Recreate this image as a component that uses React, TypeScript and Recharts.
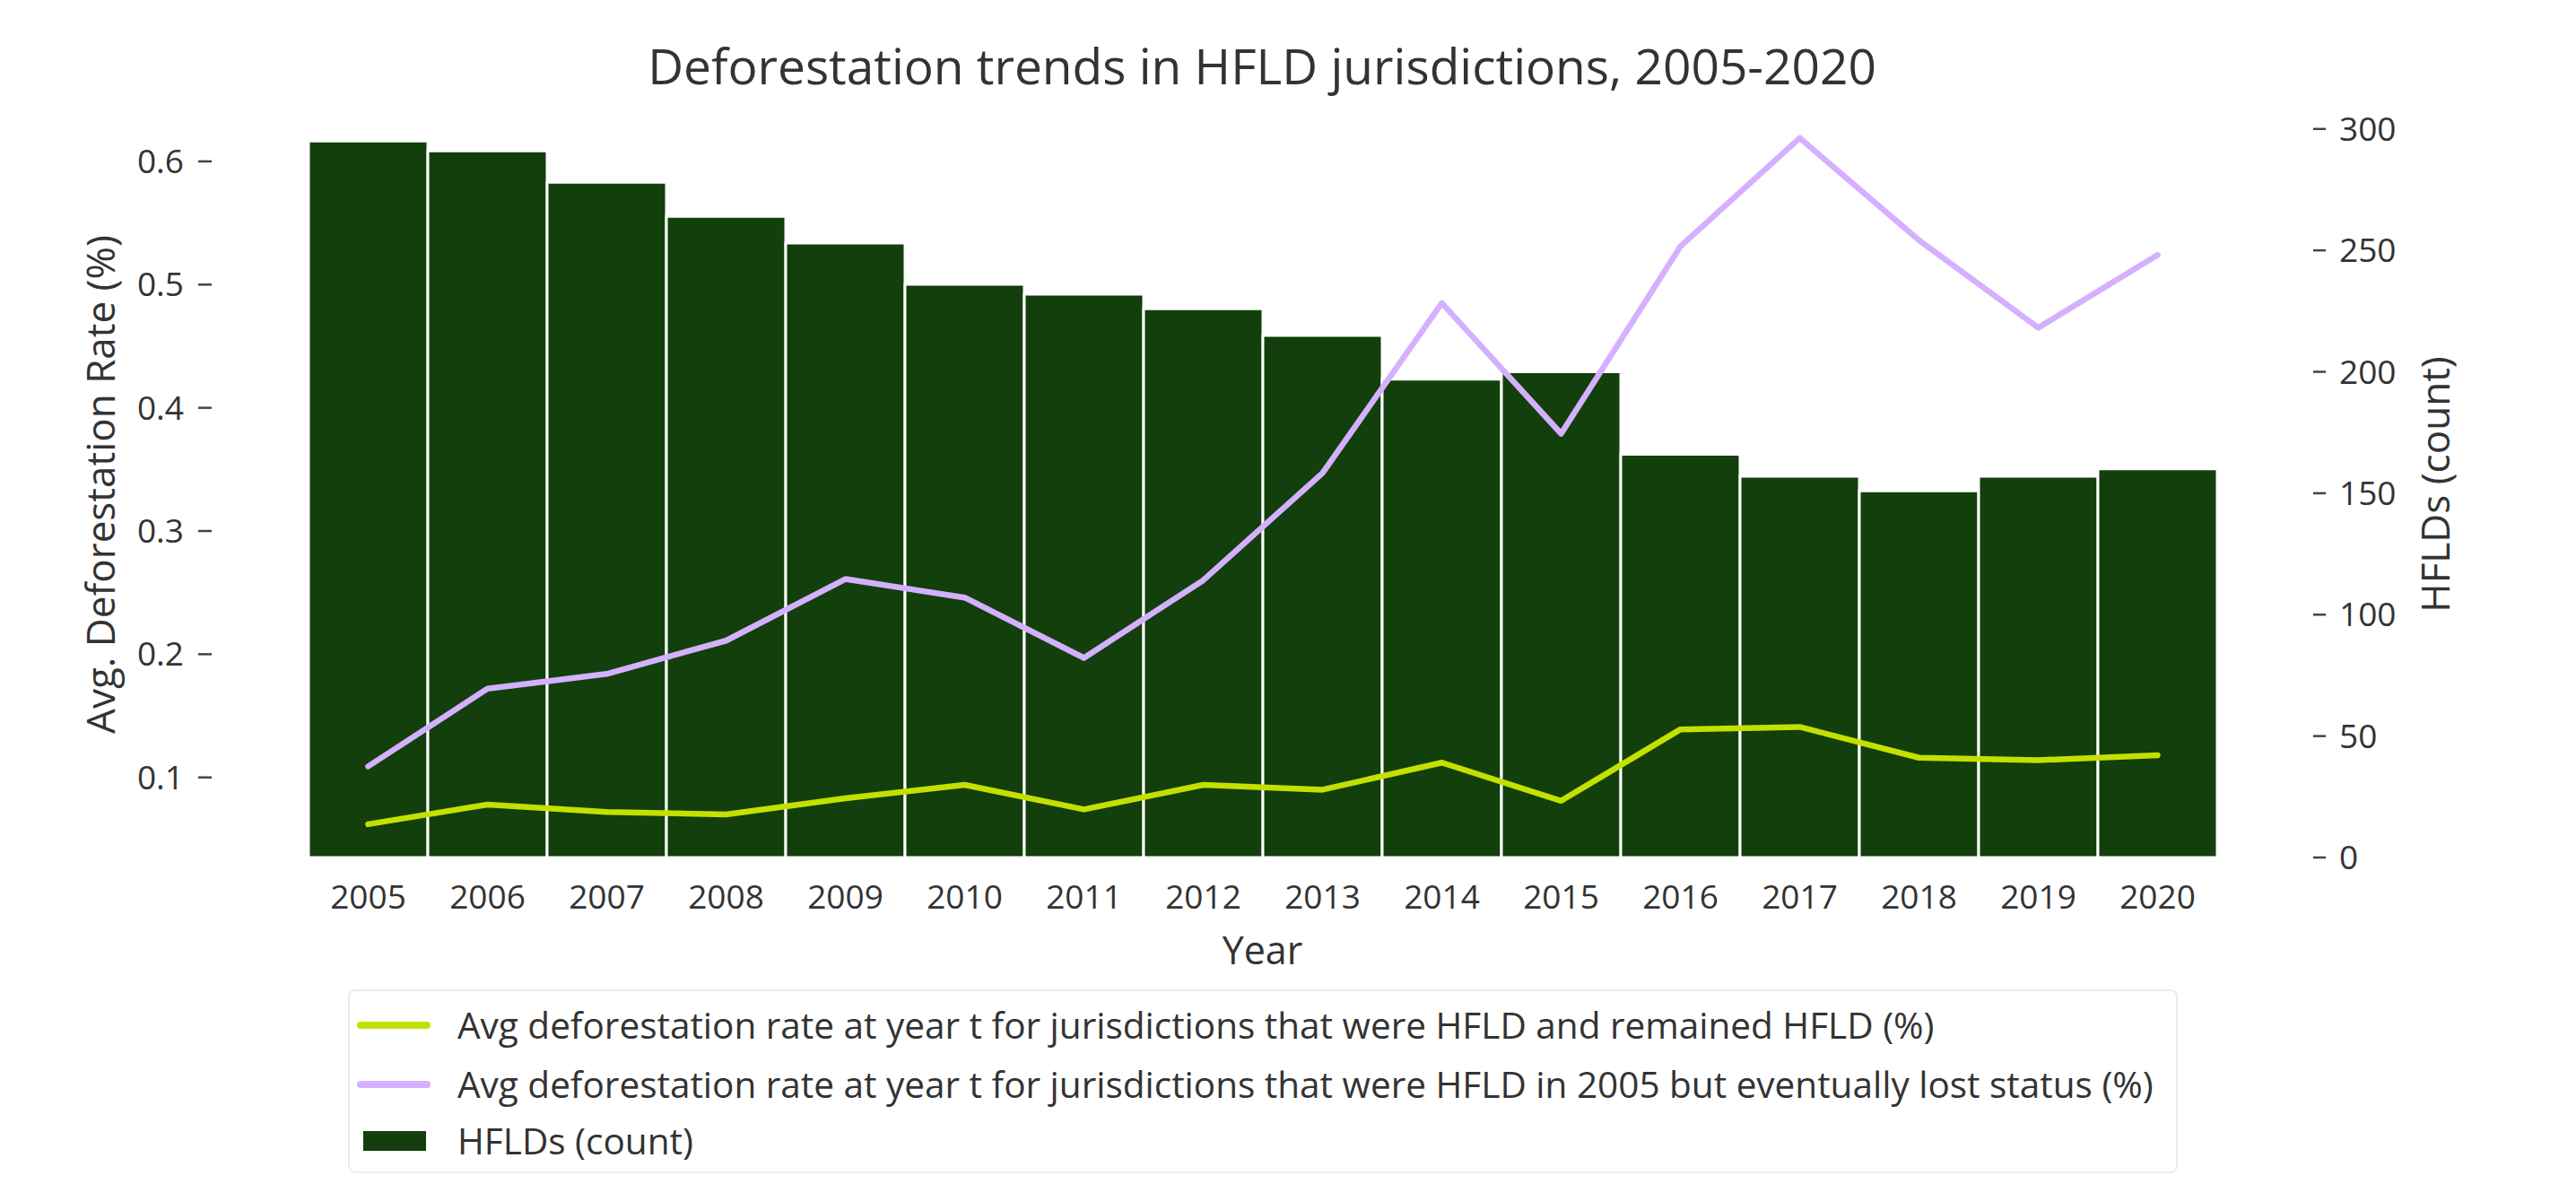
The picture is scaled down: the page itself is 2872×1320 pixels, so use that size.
import React from 'react';
import { ComposedChart, Bar, Line, XAxis, YAxis, Legend } from 'recharts';

const years = ['2005','2006','2007','2008','2009','2010','2011','2012','2013','2014','2015','2016','2017','2018','2019','2020'];
const hfldCount = [295, 291, 278, 264, 253, 236, 232, 226, 215, 197, 200, 166, 157, 151, 157, 160];
const remainedRate = [0.062, 0.078, 0.072, 0.070, 0.083, 0.094, 0.074, 0.094, 0.090, 0.112, 0.081, 0.139, 0.141, 0.116, 0.114, 0.118];
const lostRate = [0.109, 0.172, 0.184, 0.211, 0.261, 0.246, 0.197, 0.260, 0.347, 0.485, 0.379, 0.531, 0.619, 0.536, 0.465, 0.524];
const leftTicks = [0.1, 0.2, 0.3, 0.4, 0.5, 0.6];
const rightTicks = [0, 50, 100, 150, 200, 250, 300];

const seriesLabels = [
  'Avg deforestation rate at year t for jurisdictions that were HFLD and remained HFLD (%)',
  'Avg deforestation rate at year t for jurisdictions that were HFLD in 2005 but eventually lost status (%)',
  'HFLDs (count)',
];
const titleText = 'Deforestation trends in HFLD jurisdictions, 2005-2020';

const data = years.map((y, i) => ({
  year: y,
  count: hfldCount[i],
  remained: remainedRate[i],
  lost: lostRate[i],
}));

const FONT = '"Open Sans", "Noto Sans", sans-serif';
const TEXT = '#333333';
const BAR = '#123f0b';
const GREEN = '#c4e000';
const PURPLE = '#d4b0ff';

const W = 2872;
const H = 1320;

const renderLegend = () => {
  const rows = [
    { kind: 'line', color: GREEN, label: seriesLabels[0], cy: 38 },
    { kind: 'line', color: PURPLE, label: seriesLabels[1], cy: 104 },
    { kind: 'patch', color: BAR, label: seriesLabels[2], cy: 167 },
  ];
  return (
    <div
      style={{
        position: 'relative',
        boxSizing: 'border-box',
        width: 2040,
        height: 205,
        border: '2px solid #ececec',
        borderRadius: 8,
        background: '#fff',
        fontFamily: FONT,
      }}
    >
      {rows.map((r, i) => (
        <div key={i} style={{ position: 'absolute', left: 0, top: r.cy - 27, height: 54, width: '100%' }}>
          {r.kind === 'line' ? (
            <div style={{ position: 'absolute', left: 8, top: 23, width: 82, height: 8, borderRadius: 4, background: r.color }} />
          ) : (
            <div style={{ position: 'absolute', left: 15, top: 16, width: 70, height: 22, background: r.color }} />
          )}
          <div style={{ position: 'absolute', left: 120, top: 0, height: 54, lineHeight: '54px', fontSize: 40.5, color: TEXT, whiteSpace: 'nowrap' }}>
            {r.label}
          </div>
        </div>
      ))}
    </div>
  );
};

export default function App() {
  return (
    <div style={{ position: 'absolute', left: 0, top: 0, width: W, height: H, background: '#fff' }}>
      <svg width={W} height={120} style={{ position: 'absolute', left: 0, top: 0 }}>
        <text x={1407} y={94} textAnchor="middle" fontFamily={FONT} fontSize={55} fill={TEXT}>
          {titleText}
        </text>
      </svg>
      <div style={{ position: 'absolute', left: 0, top: 0 }}>
        <ComposedChart
          width={W}
          height={H}
          data={data}
          margin={{ top: 114, right: 0, bottom: 234, left: 0 }}
          barCategoryGap={0}
          barGap={0}
        >
          <XAxis
            dataKey="year"
            xAxisId="x"
            height={130}
            padding={{ left: 108, right: 107 }}
            axisLine={false}
            tickLine={false}
            tickSize={0}
            tickMargin={31}
            interval={0}
            tick={{ fill: TEXT, fontSize: 37, fontFamily: FONT }}
            label={{
              content: (p: any) => {
                const vb = p.viewBox || { x: 0, y: 0, width: 0 };
                return (
                  <text x={vb.x + vb.width / 2} y={vb.y + 119} textAnchor="middle" fontFamily={FONT} fontSize={43} fill={TEXT}>
                    Year
                  </text>
                );
              },
            }}
          />
          <YAxis
            yAxisId="left"
            orientation="left"
            width={236}
            domain={[0.035, 0.648]}
            allowDataOverflow
            ticks={leftTicks}
            tickFormatter={(v: number) => v.toFixed(1)}
            axisLine={false}
            tickLine={{ stroke: '#444', strokeWidth: 2.5 }}
            tickSize={15}
            tickMargin={16}
            tick={{ fill: TEXT, fontSize: 37, fontFamily: FONT }}
            label={{
              content: (p: any) => {
                const vb = p.viewBox || { x: 0, y: 0, width: 0, height: 0 };
                const cx = 111;
                const cy = vb.y + vb.height / 2 + 5;
                return (
                  <text x={cx} y={cy} transform={`rotate(-90 ${cx} ${cy})`} textAnchor="middle" dominantBaseline="central" fontFamily={FONT} fontSize={44} fill={TEXT}>
                    Avg. Deforestation Rate (%)
                  </text>
                );
              },
            }}
          />
          <YAxis
            yAxisId="right"
            orientation="right"
            width={293}
            domain={[0, 311]}
            allowDataOverflow
            ticks={rightTicks}
            axisLine={false}
            tickLine={{ stroke: '#444', strokeWidth: 2.5 }}
            tickSize={14}
            tickMargin={15}
            tick={{ fill: TEXT, fontSize: 37, fontFamily: FONT }}
            label={{
              content: (p: any) => {
                const vb = p.viewBox || { x: 0, y: 0, width: 0, height: 0 };
                const cx = 2714;
                const cy = vb.y + vb.height / 2 + 5;
                return (
                  <text x={cx} y={cy} transform={`rotate(-90 ${cx} ${cy})`} textAnchor="middle" dominantBaseline="central" fontFamily={FONT} fontSize={44} fill={TEXT}>
                    HFLDs (count)
                  </text>
                );
              },
            }}
          />
          <Bar
            dataKey="count"
            xAxisId="x"
            yAxisId="right"
            fill={BAR}
            stroke="#ffffff"
            strokeWidth={3}
            isAnimationActive={false}
            name={seriesLabels[2]}
          />
          <Line
            type="linear"
            dataKey="remained"
            xAxisId="x"
            yAxisId="left"
            stroke={GREEN}
            strokeWidth={6.5}
            dot={false}
            activeDot={false}
            strokeLinejoin="round"
            strokeLinecap="round"
            isAnimationActive={false}
            name={seriesLabels[0]}
          />
          <Line
            type="linear"
            dataKey="lost"
            xAxisId="x"
            yAxisId="left"
            stroke={PURPLE}
            strokeWidth={6.5}
            dot={false}
            activeDot={false}
            strokeLinejoin="round"
            strokeLinecap="round"
            isAnimationActive={false}
            name={seriesLabels[1]}
          />
          <Legend
            layout="vertical"
            align="center"
            verticalAlign="middle"
            content={renderLegend}
            wrapperStyle={{ position: 'absolute', left: 388, top: 1103, width: 2040, height: 205, margin: 0, padding: 0 }}
          />
        </ComposedChart>
      </div>
    </div>
  );
}
